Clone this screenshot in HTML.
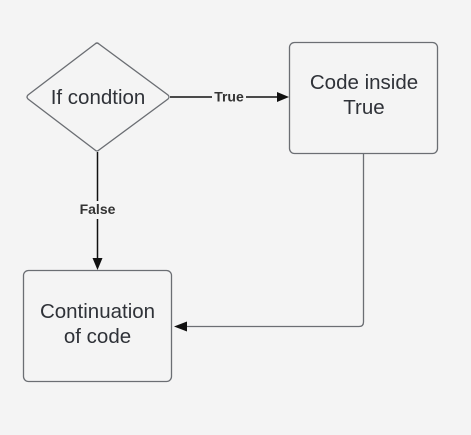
<!DOCTYPE html>
<html><head><style>html,body{margin:0;padding:0;background:#f4f4f4;}svg{display:block}</style></head>
<body>
<svg width="471" height="435" viewBox="0 0 471 435" xmlns="http://www.w3.org/2000/svg" font-family="Liberation Sans, sans-serif">
<rect width="471" height="435" fill="#f4f4f4"/>
<path d="M95,44 Q97,42 99,44 L168,95 Q170,97 168,99 L99,150 Q97,152 95,150 L28,99 Q26,97 28,95 Z" fill="#f4f4f4" stroke="#6b6e73" stroke-width="1.3"/>
<rect x="289.5" y="42.5" width="148" height="111" rx="5" fill="#f4f4f4" stroke="#6b6e73" stroke-width="1.3"/>
<rect x="23.5" y="270.5" width="148" height="111" rx="5" fill="#f4f4f4" stroke="#6b6e73" stroke-width="1.3"/>
<line x1="170" y1="97" x2="277" y2="97" stroke="#111" stroke-width="1.5"/>
<polygon points="289,97 277,92 277,102" fill="#111"/>
<rect x="212" y="90" width="34" height="14" fill="#f4f4f4"/>
<text x="229" y="101.5" font-size="14" font-weight="bold" fill="#333" text-anchor="middle">True</text>
<line x1="97.5" y1="152" x2="97.5" y2="258" stroke="#111" stroke-width="1.5"/>
<polygon points="97.5,270 92.5,258 102.5,258" fill="#111"/>
<rect x="75" y="201" width="45" height="18" fill="#f4f4f4"/>
<text x="97.5" y="214" font-size="14" font-weight="bold" fill="#333" text-anchor="middle">False</text>
<path d="M363.5,153 L363.5,322 Q363.5,326.5 359,326.5 L186,326.5" fill="none" stroke="#6b6e73" stroke-width="1.3"/>
<polygon points="174,326.5 187,321.5 187,331.5" fill="#111"/>
<g font-size="20.5" fill="#2f3238" text-anchor="middle">
<text x="98" y="104">If condtion</text>
<text x="364" y="89">Code inside</text>
<text x="364" y="114">True</text>
<text x="97.5" y="318">Continuation</text>
<text x="97.5" y="343">of code</text>
</g>
</svg>
</body></html>
